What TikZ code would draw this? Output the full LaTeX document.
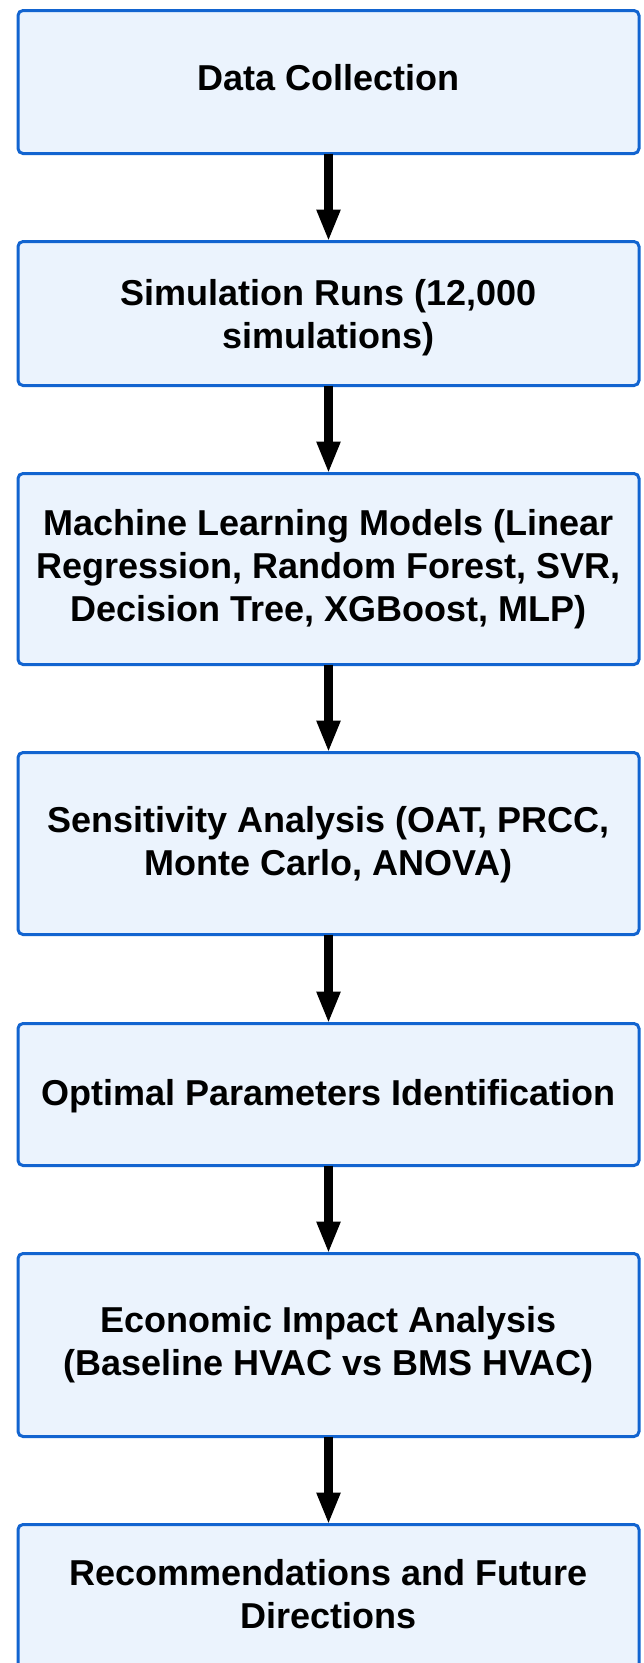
\documentclass[tikz,border=0pt]{standalone}
\usepackage{fontspec}
\setmainfont{Liberation Sans}
\usetikzlibrary{arrows.meta}

\definecolor{boxfill}{RGB}{235,243,253}
\definecolor{boxline}{RGB}{18,100,208}

\begin{document}
\begin{tikzpicture}[x=1pt,y=-1pt,
  stagebox/.style={draw=boxline, fill=boxfill, line width=3pt,
    rounded corners=5pt, inner sep=0pt, outer sep=0pt,
    minimum width=621pt},
  stagetext/.style={anchor=base, align=center, inner sep=0pt,
    font=\bfseries\fontsize{36}{43}\selectfont},
  flow/.style={line width=8.5pt, draw=black,
    -{Triangle[width=22pt,length=32pt]}}]

\useasboundingbox (0,0) rectangle (643,1663);

% stage boxes
\node[stagebox, minimum height=143pt] (b1) at (328.5,82) {};
\node[stagebox, minimum height=144pt] (b2) at (328.5,313.5) {};
\node[stagebox, minimum height=191pt] (b3) at (328.5,569) {};
\node[stagebox, minimum height=182pt] (b4) at (328.5,843.5) {};
\node[stagebox, minimum height=142pt] (b5) at (328.5,1094.5) {};
\node[stagebox, minimum height=183pt] (b6) at (328.5,1345) {};
\node[stagebox, minimum height=146pt] (b7) at (328.5,1597.5) {};

% stage labels (placed by the baseline of their last line)
\node[stagetext] (t1) at (328.5,90) {Data Collection};
\node[stagetext] (t2) at (328.5,348) {Simulation Runs (12,000\\simulations)};
\node[stagetext] (t3) at (328.5,621) {Machine Learning Models (Linear\\Regression, Random Forest, SVR,\\Decision Tree, XGBoost, MLP)};
\node[stagetext] (t4) at (328.5,875) {Sensitivity Analysis (OAT, PRCC,\\Monte Carlo, ANOVA)};
\node[stagetext] (t5) at (328.5,1105) {Optimal Parameters Identification};
\node[stagetext] (t6) at (328.5,1375) {Economic Impact Analysis\\(Baseline HVAC vs BMS HVAC)};
\node[stagetext] (t7) at (328.5,1628) {Recommendations and Future\\Directions};

% flow arrows
\draw[flow] (b1.south) -- (b2.north);
\draw[flow] (b2.south) -- (b3.north);
\draw[flow] (b3.south) -- (b4.north);
\draw[flow] (b4.south) -- (b5.north);
\draw[flow] (b5.south) -- (b6.north);
\draw[flow] (b6.south) -- (b7.north);
\end{tikzpicture}
\end{document}
